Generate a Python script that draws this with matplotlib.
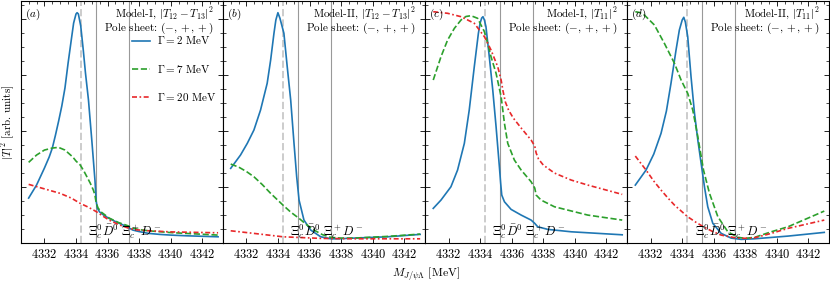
import numpy as np
import matplotlib.pyplot as plt
from matplotlib.ticker import MultipleLocator, NullFormatter

plt.rcParams['font.family'] = 'serif'
plt.rcParams['font.serif'] = ['cmr10', 'DejaVu Serif']
plt.rcParams['mathtext.fontset'] = 'cm'
plt.rcParams['axes.unicode_minus'] = False
plt.rcParams['axes.formatter.use_mathtext'] = True
plt.rcParams['font.size'] = 8

# thresholds / pole position [MeV]
pole_m = 4334.3
thr_0 = 4335.28   # Xi_c^0 Dbar^0
thr_p = 4337.37   # Xi_c^+ D^-

# ---- panel (a): Model-I, |T12 - T13|^2 ----
a_blue_m = [4331.0, 4331.5, 4332.0, 4332.3, 4332.5, 4332.7, 4332.9, 4333.1, 4333.3, 4333.5,
            4333.7, 4333.85, 4334.0, 4334.07, 4334.15, 4334.3, 4334.46, 4334.6, 4334.79, 4334.9,
            4335.0, 4335.1, 4335.2, 4335.28, 4335.35, 4335.5, 4335.75, 4336.0, 4336.5, 4337.0,
            4337.37, 4337.6, 4338.0, 4338.6, 4339.3, 4340.0, 4341.0, 4342.0, 4343.0]
a_blue_I = [45, 58, 75, 86, 95, 108, 122, 137, 155, 180,
            203, 220, 229, 230.3, 229, 217, 193, 170, 143, 122,
            103, 83, 63, 42, 35, 31, 28, 25.5, 21.5, 18,
            15, 13, 11.5, 9.7, 8.7, 8, 7.3, 6.8, 6.3]
a_green_m = [4331.0, 4331.5, 4332.0, 4332.5, 4332.89, 4333.3, 4333.8, 4334.0, 4334.27, 4334.5,
             4334.7, 4334.9, 4335.1, 4335.2, 4335.28, 4335.4, 4335.6, 4336.1, 4336.7, 4337.35,
             4337.6, 4338.0, 4338.6, 4340.0, 4341.8, 4343.0]
a_green_I = [80.7, 88, 93, 95, 95.7, 93, 86, 82, 78, 72,
             66, 60, 53, 48, 40, 35, 31, 25, 20.5, 17,
             15, 13.5, 12.3, 10.5, 9, 8]
a_red_m = [4331.0, 4332.0, 4333.0, 4333.7, 4334.27, 4334.7, 4335.0, 4335.3, 4335.7, 4336.1,
           4336.7, 4337.37, 4337.8, 4338.6, 4340.0, 4343.0]
a_red_I = [58.7, 54.2, 49.7, 45, 39.7, 36.5, 34, 31.3, 27, 23,
           18.5, 14.7, 13.3, 12.3, 11.2, 10.3]

# ---- panel (b): Model-II, |T12 - T13|^2 ----
b_blue_m = [4331.0, 4331.62, 4332.05, 4332.47, 4332.89, 4333.31, 4333.53, 4333.74, 4333.86, 4333.99,
            4334.12, 4334.37, 4334.58, 4334.8, 4335.01, 4335.18, 4335.33, 4335.64, 4336.07, 4336.7,
            4337.34, 4337.76, 4338.82, 4340.94, 4343.0]
b_blue_I = [74.7, 88, 99.7, 113, 133, 159.7, 183, 209.7, 223, 230.3,
            224.7, 209.7, 176.3, 143, 99.7, 66.3, 43, 23, 13, 6.3,
            4.3, 4.3, 5, 6.3, 8.7]
b_green_m = [4331.0, 4331.5, 4332.0, 4332.47, 4333.0, 4333.53, 4334.31, 4334.8, 4335.33, 4335.8,
             4336.28, 4336.8, 4337.34, 4338.0, 4338.82, 4340.94, 4343.0]
b_green_I = [79, 76, 71.5, 66.3, 58.5, 49.7, 38, 31, 24.7, 18.5,
             13, 8.5, 5.7, 5, 5, 6.7, 9]
b_red_m = [4331.0, 4332.47, 4334.31, 4336.7, 4338.82, 4343.0]
b_red_I = [12.3, 9.7, 6.3, 4.7, 4.3, 4.3]

# ---- panel (c): Model-I, |T11|^2 ----
c_blue_m = [4331.03, 4331.52, 4332.15, 4332.57, 4333.0, 4333.31, 4333.63, 4333.89, 4334.0, 4334.1,
            4334.18, 4334.27, 4334.37, 4334.58, 4334.8, 4335.01, 4335.22, 4335.3, 4335.37, 4335.54,
            4335.96, 4336.6, 4337.23, 4337.46, 4337.65, 4338.29, 4339.77, 4343.0]
c_blue_I = [34.7, 43, 56.3, 73, 99.7, 133, 176.3, 209.7, 220, 225,
            226.3, 223, 216.3, 186.3, 153, 116.3, 76.3, 60, 48, 41.3,
            33.7, 28, 23, 19.7, 16.3, 13.7, 11.3, 8.3]
c_green_m = [4331.03, 4331.52, 4331.94, 4332.37, 4332.79, 4333.1, 4333.42, 4333.84, 4334.27, 4334.48,
             4334.69, 4335.01, 4335.33, 4335.54, 4335.75, 4336.17, 4336.6, 4337.23, 4337.46, 4337.55,
             4337.86, 4338.71, 4340.82, 4343.0]
c_green_I = [163, 186.3, 203, 214.7, 223, 226.5, 227.3, 224.7, 211.3, 199.7,
             186.3, 169.7, 146.3, 119.7, 99.7, 83, 73, 61.3, 55, 48,
             43, 36.3, 28, 23]
c_red_m = [4331.03, 4331.94, 4332.79, 4333.63, 4334.27, 4334.69, 4335.12, 4335.33, 4335.45, 4335.6,
           4335.8, 4336.1, 4336.6, 4337.23, 4337.46, 4337.55, 4337.7, 4338.0, 4338.71, 4339.77,
           4340.82, 4343.0]
c_red_I = [231.3, 229.7, 226.3, 219.7, 206.3, 193, 176, 163, 152, 141,
           133, 125, 115, 103, 97, 90, 84, 78, 70, 63,
           58, 48.7]

# ---- panel (d): Model-II, |T11|^2 ----
d_blue_m = [4331.03, 4331.71, 4332.2, 4332.66, 4333.0, 4333.29, 4333.61, 4333.82, 4334.0, 4334.1,
            4334.2, 4334.35, 4334.56, 4334.78, 4334.99, 4335.2, 4335.41, 4335.62, 4335.94, 4336.47,
            4337.1, 4337.74, 4338.58, 4340.7, 4343.0]
d_blue_I = [58, 73, 89, 109.7, 132, 159.7, 193, 213, 223, 225.7,
            221, 206.3, 166.3, 129.7, 103, 79.7, 56.3, 36.3, 19.7, 9.7,
            5, 3.7, 4.3, 7, 10.7]
d_green_m = [4331.03, 4331.3, 4331.6, 4332.24, 4332.87, 4333.51, 4333.93, 4334.35, 4334.67, 4334.99,
             4335.35, 4335.73, 4336.26, 4336.89, 4337.53, 4338.0, 4338.58, 4339.64, 4340.7, 4343.0]
d_green_I = [231.3, 230.5, 228, 218, 199.7, 179.7, 163, 149.7, 133, 106.3,
             73, 49.7, 26.3, 11.3, 5.7, 4.8, 5.7, 11.3, 16.3, 32]
d_red_m = [4331.03, 4331.71, 4332.2, 4332.66, 4333.1, 4333.51, 4334.35, 4334.9, 4335.35, 4335.9,
           4336.47, 4337.46, 4338.0, 4338.58, 4339.64, 4340.7, 4343.0]
d_red_I = [87, 73, 62, 53, 45, 38, 26.3, 20.5, 16.3, 11.8,
           8, 5, 4.8, 5.3, 9.7, 14.7, 23]

panels = [
    ('(a)', 'Model-I, $|T_{12}-T_{13}|^2$', (a_blue_m, a_blue_I), (a_green_m, a_green_I), (a_red_m, a_red_I)),
    ('(b)', 'Model-II, $|T_{12}-T_{13}|^2$', (b_blue_m, b_blue_I), (b_green_m, b_green_I), (b_red_m, b_red_I)),
    ('(c)', 'Model-I, $|T_{11}|^2$', (c_blue_m, c_blue_I), (c_green_m, c_green_I), (c_red_m, c_red_I)),
    ('(d)', 'Model-II, $|T_{11}|^2$', (d_blue_m, d_blue_I), (d_green_m, d_green_I), (d_red_m, d_red_I)),
]
widths = [r'$\Gamma = 2$ MeV', r'$\Gamma = 7$ MeV', r'$\Gamma = 20$ MeV']

fig, axes = plt.subplots(1, 4, figsize=(8.3, 2.83), dpi=100, sharey=True)
fig.subplots_adjust(left=0.025, right=0.9988, bottom=0.141, top=0.9965, wspace=0)

for ax, (lab, title, blue, green, red) in zip(axes, panels):
    ax.axvline(pole_m, color='#cccccc', ls='--', lw=1.4, zorder=1)
    ax.axvline(thr_0, color='#999999', lw=0.8, zorder=1)
    ax.axvline(thr_p, color='#999999', lw=0.8, zorder=1)
    ax.plot(blue[0], blue[1], color='#1f77b4', lw=1.2, label=widths[0], zorder=3)
    ax.plot(green[0], green[1], color='#2ca02c', lw=1.2, ls='--', label=widths[1], zorder=3)
    ax.plot(red[0], red[1], color='#e8282a', lw=1.2, ls=(0, (3, 1.5, 1, 1.5)), label=widths[2], zorder=3)
    ax.set_xlim(4330.5, 4343.3)
    ax.set_ylim(0, 242)
    ax.xaxis.set_major_locator(MultipleLocator(2))
    ax.xaxis.set_minor_locator(MultipleLocator(0.5))
    ax.yaxis.set_major_locator(MultipleLocator(56))
    ax.yaxis.set_minor_locator(MultipleLocator(14))
    ax.yaxis.set_major_formatter(NullFormatter())
    ax.tick_params(which='both', direction='in', top=True, right=True, left=True)
    ax.tick_params(which='major', length=3.5, width=0.6, labelsize=9)
    ax.tick_params(which='minor', length=2, width=0.5)
    ax.tick_params(axis='x', which='minor', bottom=False)
    for s in ax.spines.values():
        s.set_linewidth(0.8)
    ax.text(0.02, 0.975, '$' + lab + '$', transform=ax.transAxes, ha='left', va='top', fontsize=8)
    ax.text(0.955, 0.985, title + '\nPole sheet: $(-,+,+)$', transform=ax.transAxes,
            ha='right', va='top', fontsize=8, linespacing=1.0)
    ax.text(thr_0 - 0.5, 2, r'$\Xi_c^0\bar{D}^0$', ha='left', va='bottom', fontsize=9)
    ax.text(thr_p - 0.5, 2, r'$\Xi_c^+D^-$', ha='left', va='bottom', fontsize=9)

axes[0].legend(loc='upper right', bbox_to_anchor=(0.99, 0.88), frameon=False, fontsize=8,
               handlelength=1.6, labelspacing=1.45, handletextpad=0.6, borderaxespad=0)
axes[0].set_ylabel('$|T|^2$ [arb. units]')
axes[0].yaxis.set_label_coords(-0.018, 0.5)
fig.text(0.513, 0.035, r'$M_{J/\psi\Lambda}$ [MeV]', ha='center', va='center', fontsize=8.5)

fig.savefig('out.png', dpi=100)
